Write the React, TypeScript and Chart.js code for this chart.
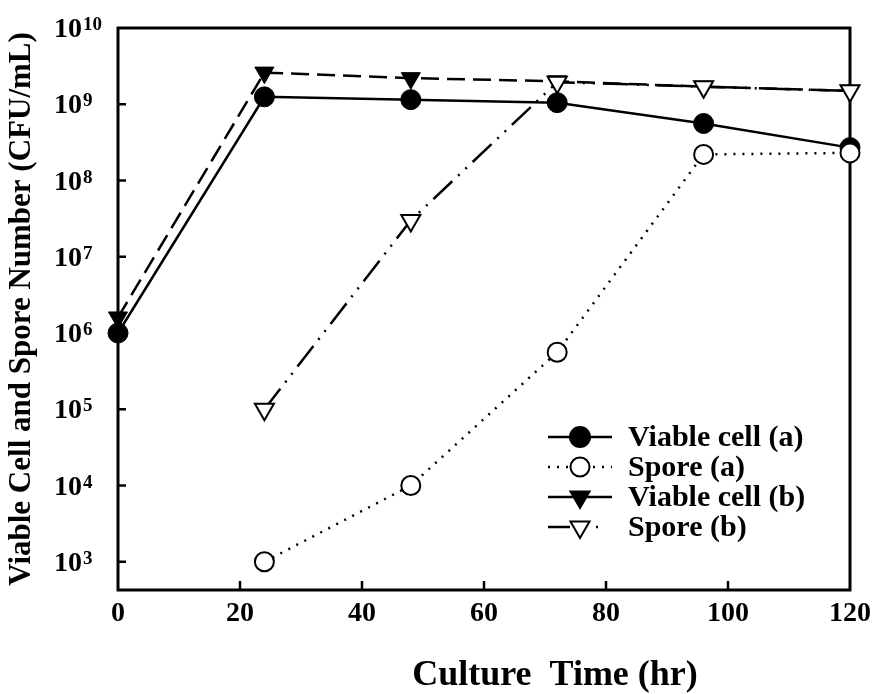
import React, { useEffect, useRef } from 'react';
import { Chart, registerables } from 'chart.js';

Chart.register(...registerables);

// ---- Data ----
const timeHours = [0, 24, 48, 72, 96, 120];
const viableCellA = [1.0e6, 1.25e9, 1.15e9, 1.05e9, 5.6e8, 2.7e8];
const sporeA = [null, 1.0e3, 1.0e4, 5.6e5, 2.2e8, 2.3e8];
const viableCellB = [1.6e6, 2.6e9, 2.2e9, 2.0e9, 1.7e9, 1.5e9];
const sporeB = [null, 1.0e5, 3.0e7, 1.95e9, 1.7e9, 1.5e9];

const seriesNames = ['Viable cell (a)', 'Spore (a)', 'Viable cell (b)', 'Spore (b)'];
const xTickValues = [0, 20, 40, 60, 80, 100, 120];
const yTickValues = [1e3, 1e4, 1e5, 1e6, 1e7, 1e8, 1e9, 1e10];
const yTickBase = '10';
const yTickExponents = ['3', '4', '5', '6', '7', '8', '9', '10'];
const xTitle = 'Culture  Time (hr)';
const yTitle = 'Viable Cell and Spore Number (CFU/mL)';

const FONT = "'Liberation Serif', 'Times New Roman', serif";

function toPoints(values: (number | null)[]) {
  const pts: { x: number; y: number }[] = [];
  values.forEach((v, i) => {
    if (v !== null) pts.push({ x: timeHours[i], y: v });
  });
  return pts;
}

function drawMarker(ctx: CanvasRenderingContext2D, kind: string, filled: boolean, x: number, y: number, r: number) {
  ctx.save();
  ctx.setLineDash([]);
  ctx.lineWidth = 2;
  ctx.strokeStyle = '#000';
  ctx.fillStyle = filled ? '#000' : '#fff';
  ctx.beginPath();
  if (kind === 'circle') {
    ctx.arc(x, y, r, 0, Math.PI * 2);
  } else {
    ctx.moveTo(x, y + r);
    ctx.lineTo(x - r * 0.866, y - r / 2);
    ctx.lineTo(x + r * 0.866, y - r / 2);
    ctx.closePath();
  }
  ctx.fill();
  ctx.stroke();
  ctx.restore();
}

const framePlugin = {
  id: 'frameAndTicks',
  beforeDatasetsDraw(chart: any) {
    const { ctx, chartArea } = chart;
    const xs = chart.scales.x;
    const ys = chart.scales.y;
    ctx.save();
    ctx.strokeStyle = '#000';
    ctx.lineWidth = 3;
    ctx.setLineDash([]);
    ctx.strokeRect(chartArea.left, chartArea.top, chartArea.right - chartArea.left, chartArea.bottom - chartArea.top);
    ctx.lineWidth = 2.5;
    ctx.beginPath();
    yTickValues.forEach((v) => {
      const py = ys.getPixelForValue(v);
      if (py > chartArea.top + 2 && py < chartArea.bottom - 2) {
        ctx.moveTo(chartArea.left, py);
        ctx.lineTo(chartArea.left + 8, py);
      }
    });
    xTickValues.forEach((v) => {
      const px = xs.getPixelForValue(v);
      if (px > chartArea.left + 2 && px < chartArea.right - 2) {
        ctx.moveTo(px, chartArea.bottom);
        ctx.lineTo(px, chartArea.bottom - 9);
      }
    });
    ctx.stroke();
    ctx.restore();
  },
};

const textPlugin = {
  id: 'axisTexts',
  afterDraw(chart: any) {
    const { ctx, chartArea } = chart;
    const ys = chart.scales.y;
    ctx.save();
    ctx.fillStyle = '#000';
    ctx.textAlign = 'left';
    ctx.textBaseline = 'alphabetic';
    // y tick labels 10^n
    yTickValues.forEach((v, i) => {
      const py = ys.getPixelForValue(v);
      const x0 = 54;
      ctx.font = `bold 28px ${FONT}`;
      ctx.fillText(yTickBase, x0, py + 9);
      const w = ctx.measureText(yTickBase).width;
      ctx.font = `bold 19px ${FONT}`;
      ctx.fillText(yTickExponents[i], x0 + w + 1, py + 2);
    });
    // x axis title
    ctx.font = `bold 36px ${FONT}`;
    ctx.textAlign = 'center';
    ctx.textBaseline = 'middle';
    ctx.fillText(xTitle, chartArea.left + (chartArea.right - chartArea.left) * 0.597, 676);
    ctx.restore();
  },
};

const legendPlugin = {
  id: 'insideLegend',
  afterDraw(chart: any) {
    const { ctx } = chart;
    const lx = 548;
    const ly = 437;
    const rowH = 30;
    const styles = [
      { dash: [] as number[], kind: 'circle', filled: true, r: 10 },
      { dash: [2, 7], kind: 'circle', filled: false, r: 9.5 },
      { dash: [] as number[], kind: 'triangle', filled: true, r: 11 },
      { dash: [22, 26, 2, 30], kind: 'triangle', filled: false, r: 11 },
    ];
    ctx.save();
    seriesNames.forEach((name, i) => {
      const s = styles[i];
      const y = ly + i * rowH;
      ctx.strokeStyle = '#000';
      ctx.lineWidth = 2.5;
      ctx.setLineDash(s.dash);
      ctx.beginPath();
      ctx.moveTo(lx, y);
      ctx.lineTo(lx + 64, y);
      ctx.stroke();
      drawMarker(ctx, s.kind, s.filled, lx + 32, y, s.r);
      ctx.setLineDash([]);
      ctx.fillStyle = '#000';
      ctx.font = `bold 30px ${FONT}`;
      ctx.textAlign = 'left';
      ctx.textBaseline = 'middle';
      ctx.fillText(name, lx + 80, y + 1);
    });
    ctx.restore();
  },
};

export default function App() {
  const canvasRef = useRef<HTMLCanvasElement | null>(null);

  useEffect(() => {
    const canvas = canvasRef.current;
    if (!canvas) return;
    const chart = new Chart(canvas, {
      type: 'line',
      data: {
        datasets: [
          {
            label: seriesNames[0],
            data: toPoints(viableCellA),
            borderColor: '#000',
            borderWidth: 2.5,
            pointStyle: 'circle',
            pointRadius: 10,
            pointBackgroundColor: '#000',
            pointBorderColor: '#000',
            pointBorderWidth: 1,
            clip: false,
            order: 2,
          },
          {
            label: seriesNames[1],
            data: toPoints(sporeA),
            borderColor: '#000',
            borderWidth: 2.5,
            borderDash: [2, 7],
            pointStyle: 'circle',
            pointRadius: 9.5,
            pointBackgroundColor: '#fff',
            pointBorderColor: '#000',
            pointBorderWidth: 2,
            clip: false,
            order: 1,
          },
          {
            label: seriesNames[2],
            data: toPoints(viableCellB),
            borderColor: '#000',
            borderWidth: 2.5,
            borderDash: [18, 8],
            pointStyle: 'triangle',
            rotation: 180,
            pointRadius: 11,
            pointBackgroundColor: '#000',
            pointBorderColor: '#000',
            pointBorderWidth: 1,
            clip: false,
            order: 3,
          },
          {
            label: seriesNames[3],
            data: toPoints(sporeB),
            borderColor: '#000',
            borderWidth: 2.5,
            borderDash: [26, 8, 2, 8, 2, 8],
            pointStyle: 'triangle',
            rotation: 180,
            pointRadius: 11,
            pointBackgroundColor: '#fff',
            pointBorderColor: '#000',
            pointBorderWidth: 2,
            clip: false,
            order: 0,
          },
        ] as any,
      },
      options: {
        animation: false,
        responsive: false,
        maintainAspectRatio: false,
        layout: { padding: { left: 0, right: 26, top: 28, bottom: 0 } },
        plugins: {
          legend: { display: false },
          tooltip: { enabled: false },
        },
        scales: {
          x: {
            type: 'linear',
            min: 0,
            max: 120,
            afterBuildTicks: (scale: any) => {
              scale.ticks = xTickValues.map((v) => ({ value: v }));
            },
            afterFit: (scale: any) => {
              scale.height = 104;
            },
            grid: { display: false, drawTicks: false },
            border: { display: false },
            ticks: {
              padding: 7,
              color: '#000',
              font: { family: FONT, size: 28, weight: 'bold' },
              maxRotation: 0,
              autoSkip: false,
            },
            title: { display: false },
          },
          y: {
            type: 'logarithmic',
            min: Math.pow(10, 2.63),
            max: 1e10,
            afterBuildTicks: (scale: any) => {
              scale.ticks = yTickValues.map((v) => ({ value: v }));
            },
            afterFit: (scale: any) => {
              scale.width = 118;
            },
            grid: { display: false, drawTicks: false },
            border: { display: false },
            ticks: { display: false },
            title: {
              display: true,
              text: yTitle,
              color: '#000',
              font: { family: FONT, size: 31, weight: 'bold', lineHeight: 1.1 },
              padding: { top: 5, bottom: 0 },
            },
          },
        },
      } as any,
      plugins: [framePlugin, textPlugin, legendPlugin],
    });
    return () => chart.destroy();
  }, []);

  return (
    <div style={{ position: 'fixed', left: 0, top: 0, width: 878, height: 694, background: '#fff' }}>
      <canvas ref={canvasRef} width={878} height={694} style={{ width: 878, height: 694 }} />
    </div>
  );
}
